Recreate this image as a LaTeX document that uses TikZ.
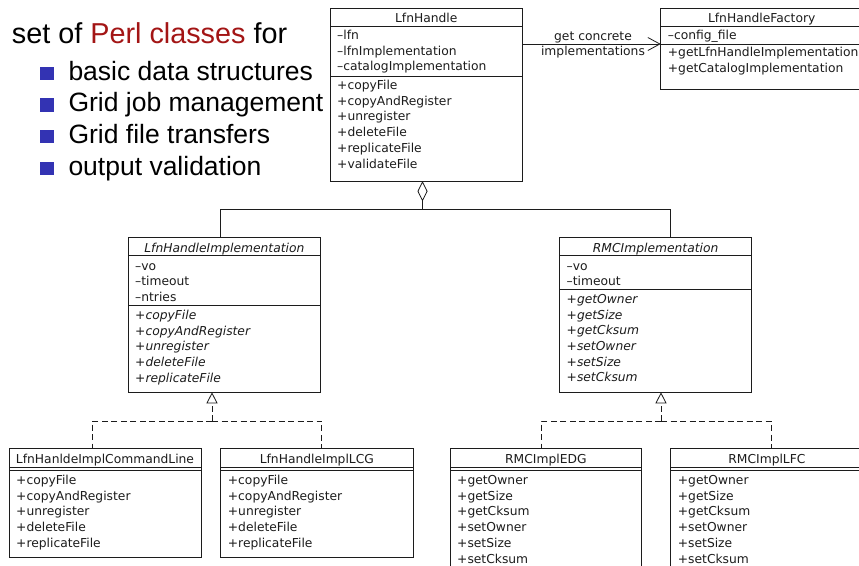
\documentclass[tikz,border=0pt]{standalone}
\usepackage{fontspec}
\setmainfont{Liberation Sans}
\newfontfamily\umlfont{DejaVu Sans}
\usetikzlibrary{arrows.meta}

\definecolor{ink}{HTML}{1C1C1C}
\definecolor{perlred}{HTML}{A31515}
\definecolor{itemblue}{HTML}{3333B3}

\tikzset{
  umlbox/.style={draw=ink, line width=0.8pt, fill=white, anchor=north west,
    inner sep=0pt, outer sep=0pt},
  umltext/.style={font={\umlfont\fontsize{12.3pt}{14pt}\selectfont}, text=ink,
    inner sep=0pt, anchor=base west},
  umltitle/.style={umltext, anchor=base},
  umlsep/.style={draw=ink, line width=0.8pt},
  assoc/.style={draw=ink, line width=0.8pt},
  realize/.style={draw=ink, line width=0.8pt, dash pattern=on 6pt off 3.5pt},
  bullettext/.style={anchor=base west, inner sep=0pt, text=black,
    font={\fontsize{26.5pt}{30pt}\selectfont}},
  bulletsq/.style={fill=itemblue, anchor=south west, inner sep=0pt,
    minimum size=13.3pt},
}

% rows of class members: name prefix, x, first baseline, extra style, list
\newcommand\umlrows[5]{%
  \foreach \m [count=\k] in {#5}
    \node[umltext,#4] (#1\k) at (#2,{#3+15.7*(\k-1)}) {\m};%
}

\begin{document}
\begin{tikzpicture}[x=1pt,y=-1pt]
\useasboundingbox (0,0) rectangle (859,565);
\fill[white] (0,0) rectangle (859,565);
\clip (0,0) rectangle (859,565);

% ---- heading and bullet list
\node[anchor=base west, inner sep=0pt, text=black,
  font={\fontsize{28.8pt}{32pt}\selectfont}] (head) at (11.7,43.3)
  {set of \textcolor{perlred}{Perl classes} for};
\foreach \t [count=\k] in {basic data structures, Grid job management,
    Grid file transfers, output validation} {
  \node[bulletsq] (bul\k) at (40,{80+31.7*(\k-1)}) {};
  \node[bullettext] (item\k) at (68.3,{80+31.7*(\k-1)}) {\t};
}

% ---- LfnHandle
\node[umlbox, minimum width=192.5pt, minimum height=173pt] (lfnh) at (330,8) {};
\node[umltitle] (lfnh-t) at (426.25,22.5) {LfnHandle};
\draw[umlsep] (lfnh.west |- 0,26) -- (lfnh.east |- 0,26);
\draw[umlsep] (lfnh.west |- 0,76) -- (lfnh.east |- 0,76);
\umlrows{lfnh-a}{337}{39.5}{}{–lfn,–lfnImplementation,–catalogImplementation}
\umlrows{lfnh-m}{337}{89.5}{}{+copyFile,+copyAndRegister,+unregister,+deleteFile,+replicateFile,+validateFile}

% ---- LfnHandleFactory
\node[umlbox, minimum width=202pt, minimum height=81pt] (fac) at (660.7,8) {};
\node[umltitle] (fac-t) at (761.7,22.5) {LfnHandleFactory};
\draw[umlsep] (fac.west |- 0,26) -- (fac.east |- 0,26);
\draw[umlsep] (fac.west |- 0,44) -- (fac.east |- 0,44);
\umlrows{fac-a}{667.7}{39.3}{}{–config\_file}
\umlrows{fac-m}{667.7}{56.7}{}{+getLfnHandleImplementation,+getCatalogImplementation}

% ---- LfnHandleImplementation (abstract)
\node[umlbox, minimum width=192.7pt, minimum height=154.6pt] (lfni) at (128,237.7) {};
\node[umltitle, font={\umlfont\itshape\fontsize{12.3pt}{14pt}\selectfont}] (lfni-t) at (224.35,252) {LfnHandleImplementation};
\draw[umlsep] (lfni.west |- 0,255.3) -- (lfni.east |- 0,255.3);
\draw[umlsep] (lfni.west |- 0,305.7) -- (lfni.east |- 0,305.7);
\umlrows{lfni-a}{135}{270}{}{–vo,–timeout,–ntries}
\umlrows{lfni-m}{135}{319.3}{font={\umlfont\itshape\fontsize{12.3pt}{14pt}\selectfont}}{+copyFile,+copyAndRegister,+unregister,+deleteFile,+replicateFile}

% ---- RMCImplementation (abstract)
\node[umlbox, minimum width=192.3pt, minimum height=154.6pt] (rmci) at (559.5,237.7) {};
\node[umltitle, font={\umlfont\itshape\fontsize{12.3pt}{14pt}\selectfont}] (rmci-t) at (655.65,252) {RMCImplementation};
\draw[umlsep] (rmci.west |- 0,255.3) -- (rmci.east |- 0,255.3);
\draw[umlsep] (rmci.west |- 0,289.3) -- (rmci.east |- 0,289.3);
\umlrows{rmci-a}{566.5}{270}{}{–vo,–timeout}
\umlrows{rmci-m}{566.5}{303.3}{font={\umlfont\itshape\fontsize{12.3pt}{14pt}\selectfont}}{+getOwner,+getSize,+getCksum,+setOwner,+setSize,+setCksum}

% ---- concrete classes
\node[umlbox, minimum width=192pt, minimum height=109pt] (cmd) at (9,448.5) {};
\node[umltitle] (cmd-t) at (105,463) {LfnHanldeImplCommandLine};
\node[umlbox, minimum width=192.3pt, minimum height=109pt] (lcg) at (220.7,448.5) {};
\node[umltitle] (lcg-t) at (316.85,463) {LfnHandleImplLCG};
\node[umlbox, minimum width=191.7pt, minimum height=130pt] (edg) at (450,448.5) {};
\node[umltitle] (edg-t) at (545.85,463) {RMCImplEDG};
\node[umlbox, minimum width=192.5pt, minimum height=130pt] (lfc) at (670.7,448.5) {};
\node[umltitle] (lfc-t) at (766.95,463) {RMCImplLFC};
\foreach \b in {cmd,lcg,edg,lfc} {
  \draw[umlsep] (\b.west |- 0,467.5) -- (\b.east |- 0,467.5);
  \draw[umlsep] (\b.west |- 0,470) -- (\b.east |- 0,470);
}
\umlrows{cmd-m}{16}{484.5}{}{+copyFile,+copyAndRegister,+unregister,+deleteFile,+replicateFile}
\umlrows{lcg-m}{227.7}{484.5}{}{+copyFile,+copyAndRegister,+unregister,+deleteFile,+replicateFile}
\umlrows{edg-m}{457}{484.5}{}{+getOwner,+getSize,+getCksum,+setOwner,+setSize,+setCksum}
\umlrows{lfc-m}{677.7}{484.5}{}{+getOwner,+getSize,+getCksum,+setOwner,+setSize,+setCksum}

% ---- association LfnHandle -> LfnHandleFactory
\draw[assoc, -{Straight Barb[length=12pt,width=13pt]}] (lfnh.east |- 0,44) -- (fac.west |- 0,44);
\node[umltitle] (lbl1) at (593,40.7) {get concrete};
\node[umltitle] (lbl2) at (593,55.7) {implementations};

% ---- aggregation of the two implementation hierarchies
\coordinate (aggr) at (lfnh.south -| 422.5,0);
\coordinate (hub) at (422.5,209.5);
\draw[assoc, {Diamond[open,length=20.5pt,width=10pt]}-] (aggr) -- (hub);
\draw[assoc] (hub) -| (lfni.north -| 220,0);
\draw[assoc] (hub) -| (rmci.north -| 670,0);

% ---- realizations
\coordinate (lfni-apex) at (lfni.south -| 212,0);
\coordinate (lfni-hub) at (212,421);
\draw[realize, -{Triangle[open,length=11pt,width=11pt]}] (lfni-hub) -- (lfni-apex);
\draw[realize] (lfni-hub) -| (cmd.north -| 92,0);
\draw[realize] (lfni-hub) -| (lcg.north -| 321.7,0);

\coordinate (rmci-apex) at (rmci.south -| 661,0);
\coordinate (rmci-hub) at (661,421);
\draw[realize, -{Triangle[open,length=11pt,width=11pt]}] (rmci-hub) -- (rmci-apex);
\draw[realize] (rmci-hub) -| (edg.north -| 541,0);
\draw[realize] (rmci-hub) -| (lfc.north -| 771,0);
\end{tikzpicture}
\end{document}
